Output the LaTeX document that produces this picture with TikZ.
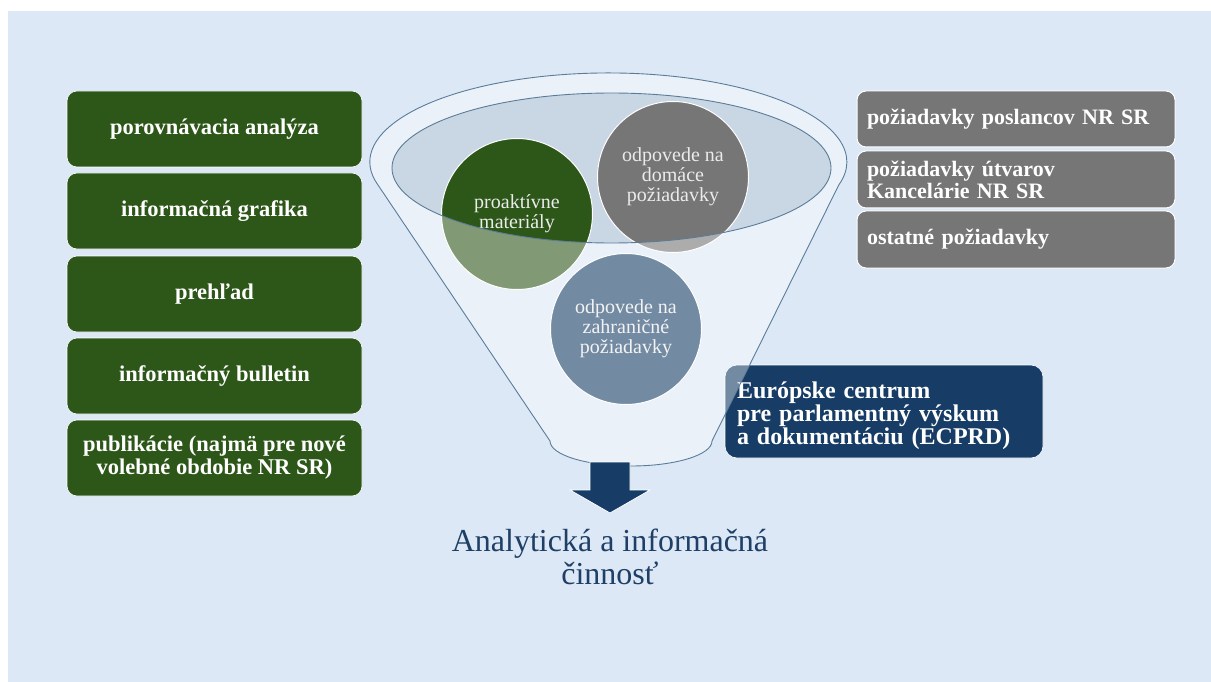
\documentclass[tikz,border=0pt]{standalone}
\usepackage{fontspec}
\setmainfont{Liberation Serif}
\definecolor{bgblue}{HTML}{DCE8F5}
\definecolor{dgreen}{HTML}{2D5619}
\definecolor{dgrey}{HTML}{767676}
\definecolor{navy}{HTML}{173D66}
\definecolor{funline}{HTML}{5B7C99}
\definecolor{innerfill}{HTML}{C9D6E3}
\definecolor{txtnavy}{HTML}{1F3F66}
\tikzset{
  greenbox/.style={rounded corners=10pt, fill=dgreen, draw=white, line width=0.6pt,
    text=white, font=\bfseries\fontsize{22.5}{23}\selectfont, align=center,
    minimum width=295pt, minimum height=76pt, inner sep=0pt},
  greybox/.style={rounded corners=9pt, fill=dgrey, draw=white, line width=1pt,
    text=white, font=\bfseries\fontsize{22}{22}\selectfont, align=left,
    minimum width=318pt, text width=298pt, inner xsep=10pt, inner ysep=0pt},
  navybox/.style={rounded corners=12pt, fill=navy, draw=white, line width=0.6pt,
    text=white, font=\bfseries\fontsize{24}{23}\selectfont, align=left,
    minimum width=318pt, text width=294pt, inner xsep=12pt, inner ysep=0pt, minimum height=93pt},
  bubble/.style={circle, minimum size=151pt, draw=white, line width=1pt,
    text=white!92!black, font=\fontsize{20}{20}\selectfont, align=center, inner sep=0pt}
}
\begin{document}
\begin{tikzpicture}[x=1pt,y=-1pt]
\useasboundingbox (0,0) rectangle (1211,682);
\fill[white] (0,0) rectangle (1211,682);
\fill[bgblue] (8,11) rectangle (1211,682);

% left green boxes
\node[greenbox] (g1) at (214.5,129) {porovnávacia analýza};
\node[greenbox] (g2) at (214.5,211) {informačná grafika};
\node[greenbox] (g3) at (214.5,294) {prehľad};
\node[greenbox] (g4) at (214.5,376) {informačný bulletin};
\node[greenbox] (g5) at (214.5,458) {publikácie (najmä pre nové\\volebné obdobie NR SR)};

% right grey boxes
\node[greybox, minimum height=56pt] (r1) at (1016,119) {požiadavky poslancov NR SR};
\node[greybox, minimum height=57pt] (r2) at (1016,179.5) {požiadavky útvarov\\Kancelárie NR SR};
\node[greybox, minimum height=57pt] (r3) at (1016,239.5) {ostatné požiadavky};

% ECPRD box
\node[navybox] (ec) at (884,411.5) {\rule{0pt}{25pt}Európske centrum\\pre parlamentný výskum\\a dokumentáciu (ECPRD)};

% funnel back (inner opening)
\coordinate (ic) at (611.5,168);
\fill[innerfill] (ic) ellipse [x radius=219.5pt, y radius=75pt];

% circles
\node[bubble, fill=dgreen] (c1) at (517,214) {proaktívne\\materiály};
\node[bubble, fill=dgrey] (c2) at (673,177) {odpovede na\\domáce\\požiadavky};
\node[bubble, fill=navy] (c3) at (626,329) {odpovede na\\zahraničné\\požiadavky};

% funnel front overlay
\coordinate (fl) at (378,185);
\coordinate (fbl) at (550,441);
\coordinate (fbr) at (712,441);
\fill[white, fill opacity=0.4, even odd rule]
  (fl) arc [start angle=195, end angle=-15, x radius=238.5pt, y radius=89pt]
  -- (fbr) arc [start angle=0, end angle=-180, x radius=81pt, y radius=25pt]
  -- cycle
  (ic) ellipse [x radius=219.5pt, y radius=75pt];
\draw[funline, line width=0.9pt]
  (fl) arc [start angle=195, end angle=-15, x radius=238.5pt, y radius=89pt]
  -- (fbr) arc [start angle=0, end angle=-180, x radius=81pt, y radius=25pt]
  -- cycle;
\draw[funline, line width=0.9pt] (ic) ellipse [x radius=219.5pt, y radius=75pt];

% arrow
\draw[fill=navy, draw=white, line width=0.8pt]
  (590,462) -- (630,462) -- (630,490) -- (650,490) -- (610,513) -- (570,490) -- (590,490) -- cycle;

% bottom text
\node[text=txtnavy, font=\fontsize{32}{33}\selectfont, align=center] (res) at (610,557)
  {Analytická a informačná\\činnosť};
\end{tikzpicture}
\end{document}
